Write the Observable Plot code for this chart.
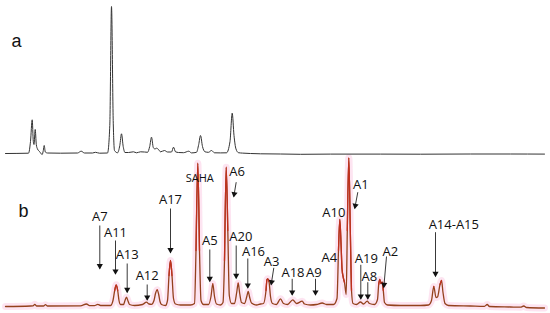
<!DOCTYPE html>
<html><head><meta charset="utf-8">
<script src="https://cdn.jsdelivr.net/npm/d3@7"></script>
<script src="https://cdn.jsdelivr.net/npm/@observablehq/plot@0.6"></script>
<style>body{margin:0;background:#fff} #chart{width:550px;height:313px}</style>
</head><body><div id="chart"></div>
<script>
// Trace a (retention time, min ; intensity, a.u.)
const rtA = [0,2.3,2.5,2.67,2.78,2.85,2.97,3.08,3.2,3.4,3.67,3.78,3.87,3.98,4.2,5.5,7.2,7.57,7.9,8.7,9.0,9.4,10.2,10.43,10.6,10.77,10.9,11.2,11.43,11.6,11.77,11.95,12.3,12.8,13.1,13.5,13.9,14.2,14.42,14.6,14.78,14.95,15.1,15.3,15.5,15.9,16.2,16.6,16.8,17.0,17.3,17.8,18.33,18.6,19.1,19.32,19.5,19.7,19.95,20.3,20.6,20.9,21.5,22.1,22.45,22.67,22.85,23.05,23.3,23.7,24.5,25.5,27.5,29.5,32.5,37.5,41.5,46.5,50.5,53.9];
const intA = [0,0.3,12,33.7,12,9,24,9,4.5,2,-1,3,8,1.5,0.5,0.3,0.5,2.3,0.5,0.5,1.2,0.3,0.5,28,147,33,3,0.7,8,19.7,7,1,1,1.7,0.7,1.7,1.5,1.2,7,16.3,6,4.5,5.3,4,1.7,3,1.5,1.5,6.3,1.7,1,0.8,2.3,0.6,1.2,9,18,7,1.7,1.2,3,0.7,0.6,0.7,12,40.3,18,4.5,0.8,0.4,0,-0.3,-0.5,-0.8,-0.6,-0.6,-0.7,-0.5,-0.5,-0.6];

// Trace b
const rtB = [0,2.5,2.75,2.93,3.1,3.8,4.0,4.2,7.5,8.1,8.4,8.9,9.23,9.5,10.5,10.75,10.92,11.07,11.22,11.35,11.5,11.8,11.95,12.1,12.25,12.4,12.9,13.7,14.1,14.35,14.6,14.85,15.0,15.17,15.32,15.45,15.6,16.0,16.2,16.35,16.5,16.65,16.8,17.0,17.5,18.5,18.9,19.05,19.23,19.4,19.55,19.8,20.3,20.55,20.73,20.9,21.1,21.5,21.75,21.9,22.07,22.23,22.38,22.6,22.9,23.12,23.27,23.42,23.6,23.9,24.13,24.27,24.42,24.6,25.1,25.5,25.8,26.05,26.15,26.23,26.35,26.5,26.7,27.1,27.5,27.8,28.2,28.73,29.1,29.67,29.9,30.5,31.1,31.67,32.1,32.8,33.15,33.3,33.43,33.56,33.65,33.77,33.9,34.07,34.18,34.33,34.48,34.6,34.75,35.1,35.5,35.8,36.17,36.4,36.9,37.2,37.32,37.43,37.55,37.67,37.78,37.9,38.2,39.5,41.5,42.3,42.6,42.83,43.05,43.2,43.45,43.6,43.75,43.95,44.3,46.5,47.9,48.17,48.4,50.5,51.5,51.83,52.1,53.9];
const intB = [-1,-0.5,-0.3,1.2,-0.5,-0.5,0.8,-0.5,-0.3,1.5,-0.2,-0.2,1.2,0,0,5,15,20.7,15,5,1,1,5,8.3,4.5,1,0,1,3.3,1.5,1.2,5,12,15.7,11,4,1,0,5,30,45,30,7,1.5,0.5,0.5,2,55,142.3,55,5,1,1,9,21.7,9,1.5,0.5,3,45,138.3,75,10,2,2,13,22.3,12,3,2,9,14,8,2.5,0.5,1.5,2,15,26,26.7,24,9,2,1,6.7,2,1,5.7,2,4.3,1.5,0.5,1,2.5,1,1,7,55,86,60,37,28.3,23,11,75,147.7,75,15,2,1,3.5,1.5,4.3,2,1,6,21,26,22,23.3,15,3,0.5,0,0,0.5,5,19,8,8.5,21,25,13,2,0,-0.5,-0.8,1,-1,-1.5,-1.7,-0.5,-2,-2.5];

// Panel labels
const panelNames = ["a","b"];
const panelRt = [1.1, 1.8];
const panelInt = [112.3, 94];

// Peak labels in panel b
const peakNames = ["A7","A11","A13","A12","A17","SAHA","A6","A5","A20","A16","A3","A18","A9","A4","A10","A1","A19","A8","A2","A14-A15"];
const peakRt =    [9.43,11.0,12.17,14.17,16.5,19.43,23.17,20.43,23.53,24.8,26.62,28.75,30.83,32.38,32.83,35.53,36.08,36.38,38.48,44.83];
const peakInt =   [88.3,73,50.7,30,106,127.5,134.1,65,68.5,54,43.3,33,33,47.7,92.7,120.7,46.7,29,53.3,80.7];

// Arrows (start -> tip)
const arrowNames = ["A7","A11","A13","A12","A17","A5","A6","A20","A16","A3","A18","A9","A1","A19","A8","A2","A14-A15"];
const arrowRt1 =  [9.43,11.0,12.17,14.17,16.5,20.43,23.07,23.07,24.23,26.83,28.67,31.0,35.23,35.53,36.23,38.1,43.0];
const arrowInt1 = [80,65,42,21,97,56,123.3,60,47,37.7,26.7,26.7,113.3,40.7,23.3,49,73.3];
const arrowRt2 =  [9.43,11.0,12.17,14.17,16.5,20.43,22.83,23.07,24.23,26.57,28.67,31.0,34.93,35.53,36.23,37.83,43.0];
const arrowInt2 = [37,31.7,13.3,5.7,53,24.3,109,27.3,17.7,21,10.7,10.7,97.3,6.7,6.7,18.3,29.3];

const traceA = rtA.map((rt, i) => ({panel: "a", rt, v: intA[i]}));
const traceB = rtB.map((rt, i) => ({panel: "b", rt, v: intB[i]}));
const panels = panelNames.map((p, i) => ({panel: p, rt: panelRt[i], v: panelInt[i]}));
const peaks = peakNames.map((n, i) => ({panel: "b", name: n, rt: peakRt[i], v: peakInt[i]}));
const pxPerRt = 540 / 54, pxPerInt = 1;
const arrows = arrowNames.map((n, i) => {
  const dx = (arrowRt2[i] - arrowRt1[i]) * pxPerRt;
  const dy = -(arrowInt2[i] - arrowInt1[i]) * pxPerInt;
  const len = Math.hypot(dx, dy);
  const ux = dx / len, uy = dy / len;
  return {panel: "b", name: n, x1: arrowRt1[i], y1: arrowInt1[i], x2: arrowRt2[i], y2: arrowInt2[i],
    hx: arrowRt2[i] - ux * 2.6 / pxPerRt, hy: arrowInt2[i] + uy * 2.6 / pxPerInt,
    angle: Math.atan2(dx, -dy) * 180 / Math.PI};
});

const chart = Plot.plot({
  width: 550, height: 313,
  marginLeft: 5, marginRight: 5, marginTop: 3, marginBottom: 8,
  x: {domain: [0, 54], axis: null},
  y: {domain: [0, 150], axis: null},
  fy: {domain: ["a", "b"], axis: null, paddingInner: 2 / 152, paddingOuter: 0, round: false},
  marks: [
    Plot.line(traceB, {x: "rt", y: "v", fy: "panel", curve: "monotone-x", stroke: "#fbcde6", strokeWidth: 7, strokeOpacity: 0.55}),
    Plot.line(traceA, {x: "rt", y: "v", fy: "panel", curve: "monotone-x", stroke: "#333", strokeWidth: 1}),
    Plot.line(traceB, {x: "rt", y: "v", fy: "panel", curve: "monotone-x", stroke: "#94411d", strokeWidth: 1.3}),
    Plot.line(traceB, {x: "rt", y: d => d.v > 14 ? d.v : NaN, fy: "panel", curve: "monotone-x", stroke: "#c0301e", strokeWidth: 1.3}),
    Plot.link(arrows, {x1: "x1", y1: "y1", x2: "x2", y2: "y2", fy: "panel", stroke: "#222", strokeWidth: 0.9}),
    Plot.dot(arrows, {x: "hx", y: "hy", fy: "panel", symbol: "triangle", r: 2.3, fill: "#111", stroke: "none", rotate: "angle"}),
    Plot.text(peaks.filter(d => d.name !== "SAHA"), {x: "rt", y: "v", fy: "panel", text: "name", fontFamily: "Open Sans", fontSize: 13, fill: "#111"}),
    Plot.text(peaks.filter(d => d.name === "SAHA"), {x: "rt", y: "v", fy: "panel", text: "name", fontFamily: "Open Sans", fontSize: 11, fill: "#111"}),
    Plot.text(panels, {x: "rt", y: "v", fy: "panel", text: "panel", fontFamily: "Liberation Sans", fontSize: 18, fill: "#111"})
  ]
});
document.getElementById("chart").appendChild(chart);
</script>
</body></html>
